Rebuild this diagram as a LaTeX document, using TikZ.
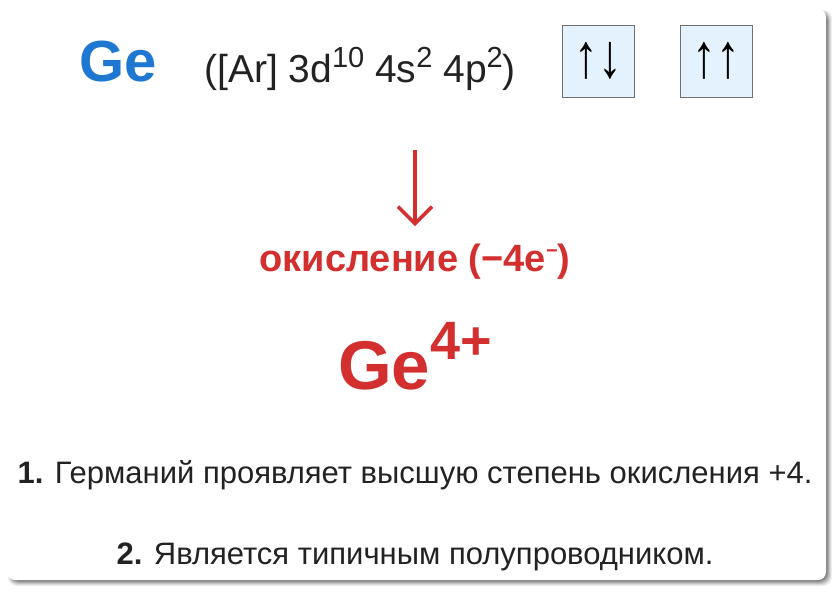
\documentclass[tikz,border=0pt]{standalone}
\usepackage{fontspec}
\setmainfont{Liberation Sans}
\usetikzlibrary{arrows.meta}
\definecolor{geblue}{HTML}{1E78D2}
\definecolor{gered}{HTML}{D32F2F}
\definecolor{boxfill}{HTML}{E3F2FD}
\definecolor{boxline}{HTML}{707070}
\definecolor{txt}{HTML}{222222}
\newcommand{\fs}[1]{\fontsize{#1}{#1}\selectfont}
\newcommand{\sups}[1]{\raisebox{15pt}{\fs{29}#1}}
\begin{document}
\begin{tikzpicture}[x=1pt,y=-1pt,
  orbital/.style={draw=boxline, line width=1pt, fill=boxfill, minimum width=72pt, minimum height=72pt, inner sep=0pt, font=\fs{50}, text=black},
  plain/.style={inner sep=0pt, text=txt},
  redtxt/.style={inner sep=0pt, text=gered, font=\bfseries}]
\useasboundingbox (0,0) rectangle (836,592);
\fill[white] (0,0) rectangle (836,592);
% shadow
\foreach \i/\o in {6/0.06,5/0.08,4/0.10,3/0.12,2/0.14,1/0.16}{
  \fill[black, opacity=\o, rounded corners=9pt] (8-\i/2+3,10-\i/2+3) rectangle (826+\i,580+\i);
}
\fill[white, rounded corners=8pt] (7,9) rectangle (826,580);
% nodes
\node[plain, text=geblue, font=\bfseries\fs{58}, anchor=base] (ge) at (118,81) {Ge};
\node[plain, font=\fs{39}, anchor=base west] (cfg) at (204,82) {([Ar] 3d\sups{10} 4s\sups{2} 4p\sups{2})};
\node[orbital] (b1) at (598,61) {\raisebox{-4pt}{\scalebox{0.95}[1.25]{↑↓}}};
\node[orbital] (b2) at (716,61) {\raisebox{-4pt}{\scalebox{0.95}[1.25]{↑↑}}};
\node[redtxt, font=\bfseries\fs{38}, anchor=base] (ox) at (415,271) {окисление (−4e\raisebox{14pt}{\fs{20}−})};
\node[redtxt, font=\bfseries\fs{69}, anchor=base] (ion) at (415,389) {Ge\raisebox{30pt}{\fs{54}4+}};
\node[plain, font=\fs{31}, anchor=base] (l1) at (415,483) {\textbf{1.} Германий проявляет высшую степень окисления +4.};
\node[plain, font=\fs{31}, anchor=base] (l2) at (415,564) {\textbf{2.} Является типичным полупроводником.};
\coordinate (atop) at (415,150);
\coordinate (abot) at (415,226);
\draw[gered, line width=3.5pt, -{Straight Barb[length=17pt,width=34pt,line width=3.5pt]}] (atop) -- (abot);
\end{tikzpicture}
\end{document}
